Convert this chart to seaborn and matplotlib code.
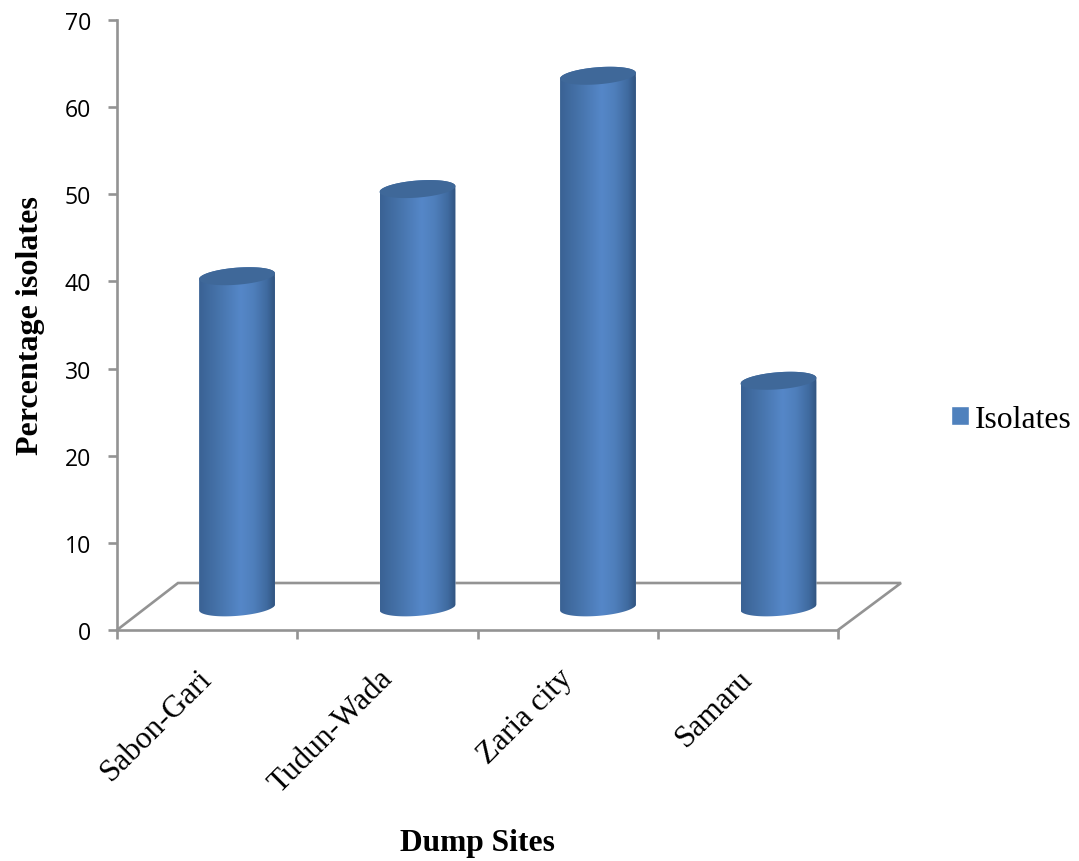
import numpy as np
import pandas as pd
import matplotlib as mpl
mpl.use("Agg")
import matplotlib.pyplot as plt
from matplotlib.colors import LinearSegmentedColormap
from matplotlib.path import Path
from matplotlib.patches import PathPatch
import seaborn as sns

# data
sites = ["Sabon-Gari", "Tudun-Wada", "Zaria city", "Samaru"]
isolates = [38, 48, 61, 26]
y_ticks = [0, 10, 20, 30, 40, 50, 60, 70]

# the 3d floor lifts the columns off the axis
lift = 2.6
grey = "#939393"

sns.set_theme(style="white")
plt.rcParams["font.family"] = ["Liberation Serif", "DejaVu Serif"]

df = pd.DataFrame({"site": sites, "isolates": isolates})

W, H = 1079, 862
fig = plt.figure(figsize=(W / 100, H / 100), dpi=100)
left, right, top, bottom = 117, 838, 21, 631
ax = fig.add_axes([left / W, 1 - bottom / H, (right - left) / W, (bottom - top) / H])

sns.barplot(data=df, x="site", y="isolates", color="#4f81bd", saturation=1,
            width=0.42, bottom=lift, label="Isolates", ax=ax, zorder=3)

xlim = (-0.665, 3.33)
ylim = (0, 70)

cmap = LinearSegmentedColormap.from_list(
    "cyl", [(0, "#3a6294"), (0.25, "#4673aa"), (0.55, "#5587c8"), (0.72, "#4f7fbc"),
            (0.9, "#3f6a9f"), (1, "#315480")])
shade = np.linspace(0, 1, 200).reshape(1, -1)

# turn each bar in a cylinder, all taken from the bar geometry
t = np.linspace(0, 2 * np.pi, 121)
tilt = 0.33
semi = 0.98
for bar in ax.patches:
    x0, w = bar.get_x(), bar.get_width()
    y0, y1 = bar.get_y(), bar.get_y() + bar.get_height()
    cx = x0 + w / 2

    low = np.linspace(np.pi, 2 * np.pi, 60)
    xs_low = cx + w / 2 * np.cos(low)
    ys_low = y0 + tilt * np.cos(low) + semi * np.sin(low)
    up = np.linspace(0, np.pi, 60)
    xs_up = cx + w / 2 * np.cos(up)
    ys_up = y1 + tilt * np.cos(up) + semi * np.sin(up)
    body = Path(np.column_stack([np.r_[xs_low, xs_up], np.r_[ys_low, ys_up]]))

    outline = PathPatch(body, transform=ax.transData, fc="none", ec="none")
    ax.add_patch(outline)
    bar.set_clip_path(outline)
    im = ax.imshow(shade, extent=(x0, x0 + w, y0 - 2, y1 + 2), cmap=cmap,
                   aspect="auto", origin="lower", zorder=4, interpolation="bilinear")
    im.set_clip_path(outline)

    cap = np.column_stack([cx + w / 2 * np.cos(t), y1 + tilt * np.cos(t) + semi * np.sin(t)])
    ax.add_patch(PathPatch(Path(cap), fc="#3f6899", ec="none", zorder=5))

ax.set_xlim(xlim)
ax.set_ylim(ylim)

# floor of the 3d box
dx, dy = (178 - left) / (right - left), (bottom - 584) / (bottom - top)
dx2 = (901 - left) / (right - left)
ax.plot([0, dx, dx2, 1], [0, dy, dy, 0], color=grey, lw=1.9, transform=ax.transAxes,
        clip_on=False, zorder=1, solid_joinstyle="miter")

ax.set_yticks(y_ticks)
ax.tick_params(axis="y", left=True, length=6.5, width=1.9, color=grey, pad=12, labelsize=16.6)
for lab in ax.get_yticklabels():
    lab.set_fontfamily("Open Sans")
    lab.set_color("black")

# ticks sit on the category edges, labels near the front midpoint
n = len(sites)
edges = xlim[0] + np.arange(n + 1) * (xlim[1] - xlim[0]) / n
mids = (edges[:-1] + edges[1:]) / 2 - 0.052
ax.set_xticks(mids)
ax.set_xticklabels(sites, rotation=45, ha="right", va="top", rotation_mode="anchor",
                   fontsize=22.5, color="black")
ax.set_xticks(edges, minor=True)
ax.tick_params(axis="x", which="major", bottom=False, length=0, pad=24)
ax.tick_params(axis="x", which="minor", bottom=True, length=6.5, width=1.9, color=grey)

for s in ["top", "right"]:
    ax.spines[s].set_visible(False)
for s in ["left", "bottom"]:
    ax.spines[s].set_color(grey)
    ax.spines[s].set_linewidth(1.9)

ax.set_xlabel("Dump Sites", fontsize=22.7, fontweight="bold", color="black")
ax.xaxis.set_label_coords(0.5, -0.325)
ax.set_ylabel("Percentage isolates", fontsize=23.1, fontweight="bold", color="black")
ax.yaxis.set_label_coords(-0.1, 0.5)

ax.legend(loc="center left", bbox_to_anchor=((951 - left) / (right - left), (bottom - 420) / (bottom - top)),
          frameon=False, fontsize=22.9, handlelength=0.56, handleheight=0.56,
          handletextpad=0.2, borderaxespad=0, borderpad=0, labelcolor="black")

fig.savefig("out.png", dpi=100)
